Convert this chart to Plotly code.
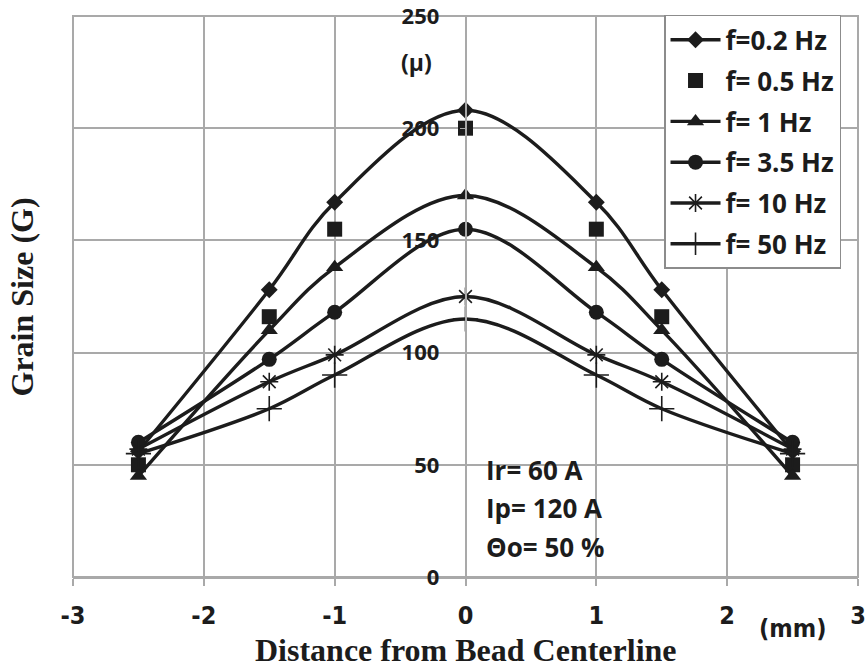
import plotly.graph_objects as go

# ---- data ----
distance_mm = [-2.5, -1.5, -1, 0, 1, 1.5, 2.5]
f_0_2 = [56, 128, 167, 208, 167, 128, 56]
f_0_5 = [50, 116, 155, 200, 155, 116, 50]
f_1 = [45, 110, 138, 170, 138, 110, 45]
f_3_5 = [60, 97, 118, 155, 118, 97, 60]
f_10 = [57, 87, 99, 125, 99, 87, 57]
f_50 = [55, 75, 90, 115, 90, 75, 55]
series_names = ["f=0.2 Hz", "f= 0.5 Hz", "f= 1 Hz", "f= 3.5 Hz", "f= 10 Hz", "f= 50 Hz"]
x_ticks = [-3, -2, -1, 0, 1, 2, 3]
y_ticks = [0, 50, 100, 150, 200, 250]

INK = "#1c1c1c"
GRID = "#a9a9a9"
SANS = "Open Sans, Liberation Sans, Arial"
NARROW = "Liberation Sans Narrow, DejaVu Sans Condensed, Arial Narrow, Arial"
SERIF = "Liberation Serif, Times New Roman, serif"

fig = go.Figure()

styles = [
    (f_0_2, "lines+markers", dict(symbol="diamond", size=13, color=INK)),
    (f_0_5, "markers", dict(symbol="square", size=15, color=INK)),
    (f_1, "lines+markers", dict(symbol="triangle-up", size=15, color=INK)),
    (f_3_5, "lines+markers", dict(symbol="circle", size=15, color=INK)),
    (f_10, "lines+markers", dict(symbol="asterisk-open", size=15, color=INK,
                                  line=dict(color=INK, width=1.6))),
    (f_50, "lines+markers", dict(symbol="cross-thin-open", size=18, color=INK,
                                  line=dict(color=INK, width=1.6))),
]

for i, (vals, mode, mk) in enumerate(styles):
    fig.add_trace(go.Scatter(
        x=distance_mm, y=vals, mode=mode, name=series_names[i],
        legendgroup=f"g{i}",
        line=dict(color=INK, width=3.4, shape="spline", smoothing=1.0),
        marker=mk,
    ))

fig.update_layout(
    width=868, height=668,
    margin=dict(l=73, r=10, t=16, b=91, autoexpand=False),
    paper_bgcolor="white", plot_bgcolor="white",
    showlegend=True,
    legend=dict(
        x=0.7529, y=1.002, xanchor="left", yanchor="top",
        bgcolor="white", bordercolor="#8c8c8c", borderwidth=1.5,
        font=dict(family=SANS, size=26, color=INK, weight="bold"),
        tracegroupgap=4, itemwidth=50,
    ),
    xaxis=dict(
        range=[-3, 3], tickvals=x_ticks, ticktext=[str(v) for v in x_ticks],
        showgrid=True, gridcolor=GRID, gridwidth=1.5,
        showline=True, linecolor=GRID, linewidth=2,
        ticks="outside", ticklen=7, tickcolor=GRID, tickwidth=1.5,
        tickfont=dict(family=NARROW, size=25, color=INK, weight="bold"),
        ticklabelstandoff=8, automargin=False,
        zeroline=False,
    ),
    yaxis=dict(
        range=[0, 250], tickvals=y_ticks, ticktext=[str(v) for v in y_ticks],
        anchor="free", position=0.5,
        showgrid=True, gridcolor=GRID, gridwidth=1.5,
        showline=True, linecolor=GRID, linewidth=1.5,
        ticks="outside", ticklen=5, tickcolor=GRID,
        tickfont=dict(family=SANS, size=22, color=INK, weight="bold"),
        ticklabelstandoff=16, ticklabeloverflow="allow", automargin=False,
        zeroline=False,
    ),
)

# plot border
fig.add_shape(type="rect", xref="paper", yref="paper", x0=0, x1=1, y0=0, y1=1,
              line=dict(color=GRID, width=2), layer="below")

ann_font = dict(family=SANS, size=26, color=INK, weight="bold")
fig.add_annotation(text="(μ)", xref="paper", yref="paper", x=0.437, y=0.918,
                   xanchor="center", yanchor="middle", showarrow=False,
                   font=dict(family=SANS, size=23, color=INK, weight="bold"))
fig.add_annotation(text="(mm)", xref="paper", yref="paper", x=0.916, y=-0.091,
                   xanchor="center", yanchor="middle", showarrow=False,
                   font=dict(family=NARROW, size=25, color=INK, weight="bold"))
for txt, yy in [("Ir= 60 A", 0.1907), ("Ip= 120 A", 0.123), ("Θo= 50 %", 0.0535)]:
    fig.add_annotation(text=txt, xref="paper", yref="paper", x=0.5236, y=yy,
                       xanchor="left", yanchor="middle", showarrow=False, font=ann_font)

fig.add_annotation(text="Distance from Bead Centerline", xref="paper", yref="paper",
                   x=0.5, y=-0.130, xanchor="center", yanchor="middle", showarrow=False,
                   font=dict(family=SERIF, size=32, color=INK, weight="bold"))
fig.add_annotation(text="Grain Size (G)", xref="paper", yref="paper",
                   x=-0.065, y=0.5, xanchor="center", yanchor="middle",
                   textangle=-90, showarrow=False,
                   font=dict(family=SERIF, size=32, color=INK, weight="bold"))

fig.write_html("out.html")
